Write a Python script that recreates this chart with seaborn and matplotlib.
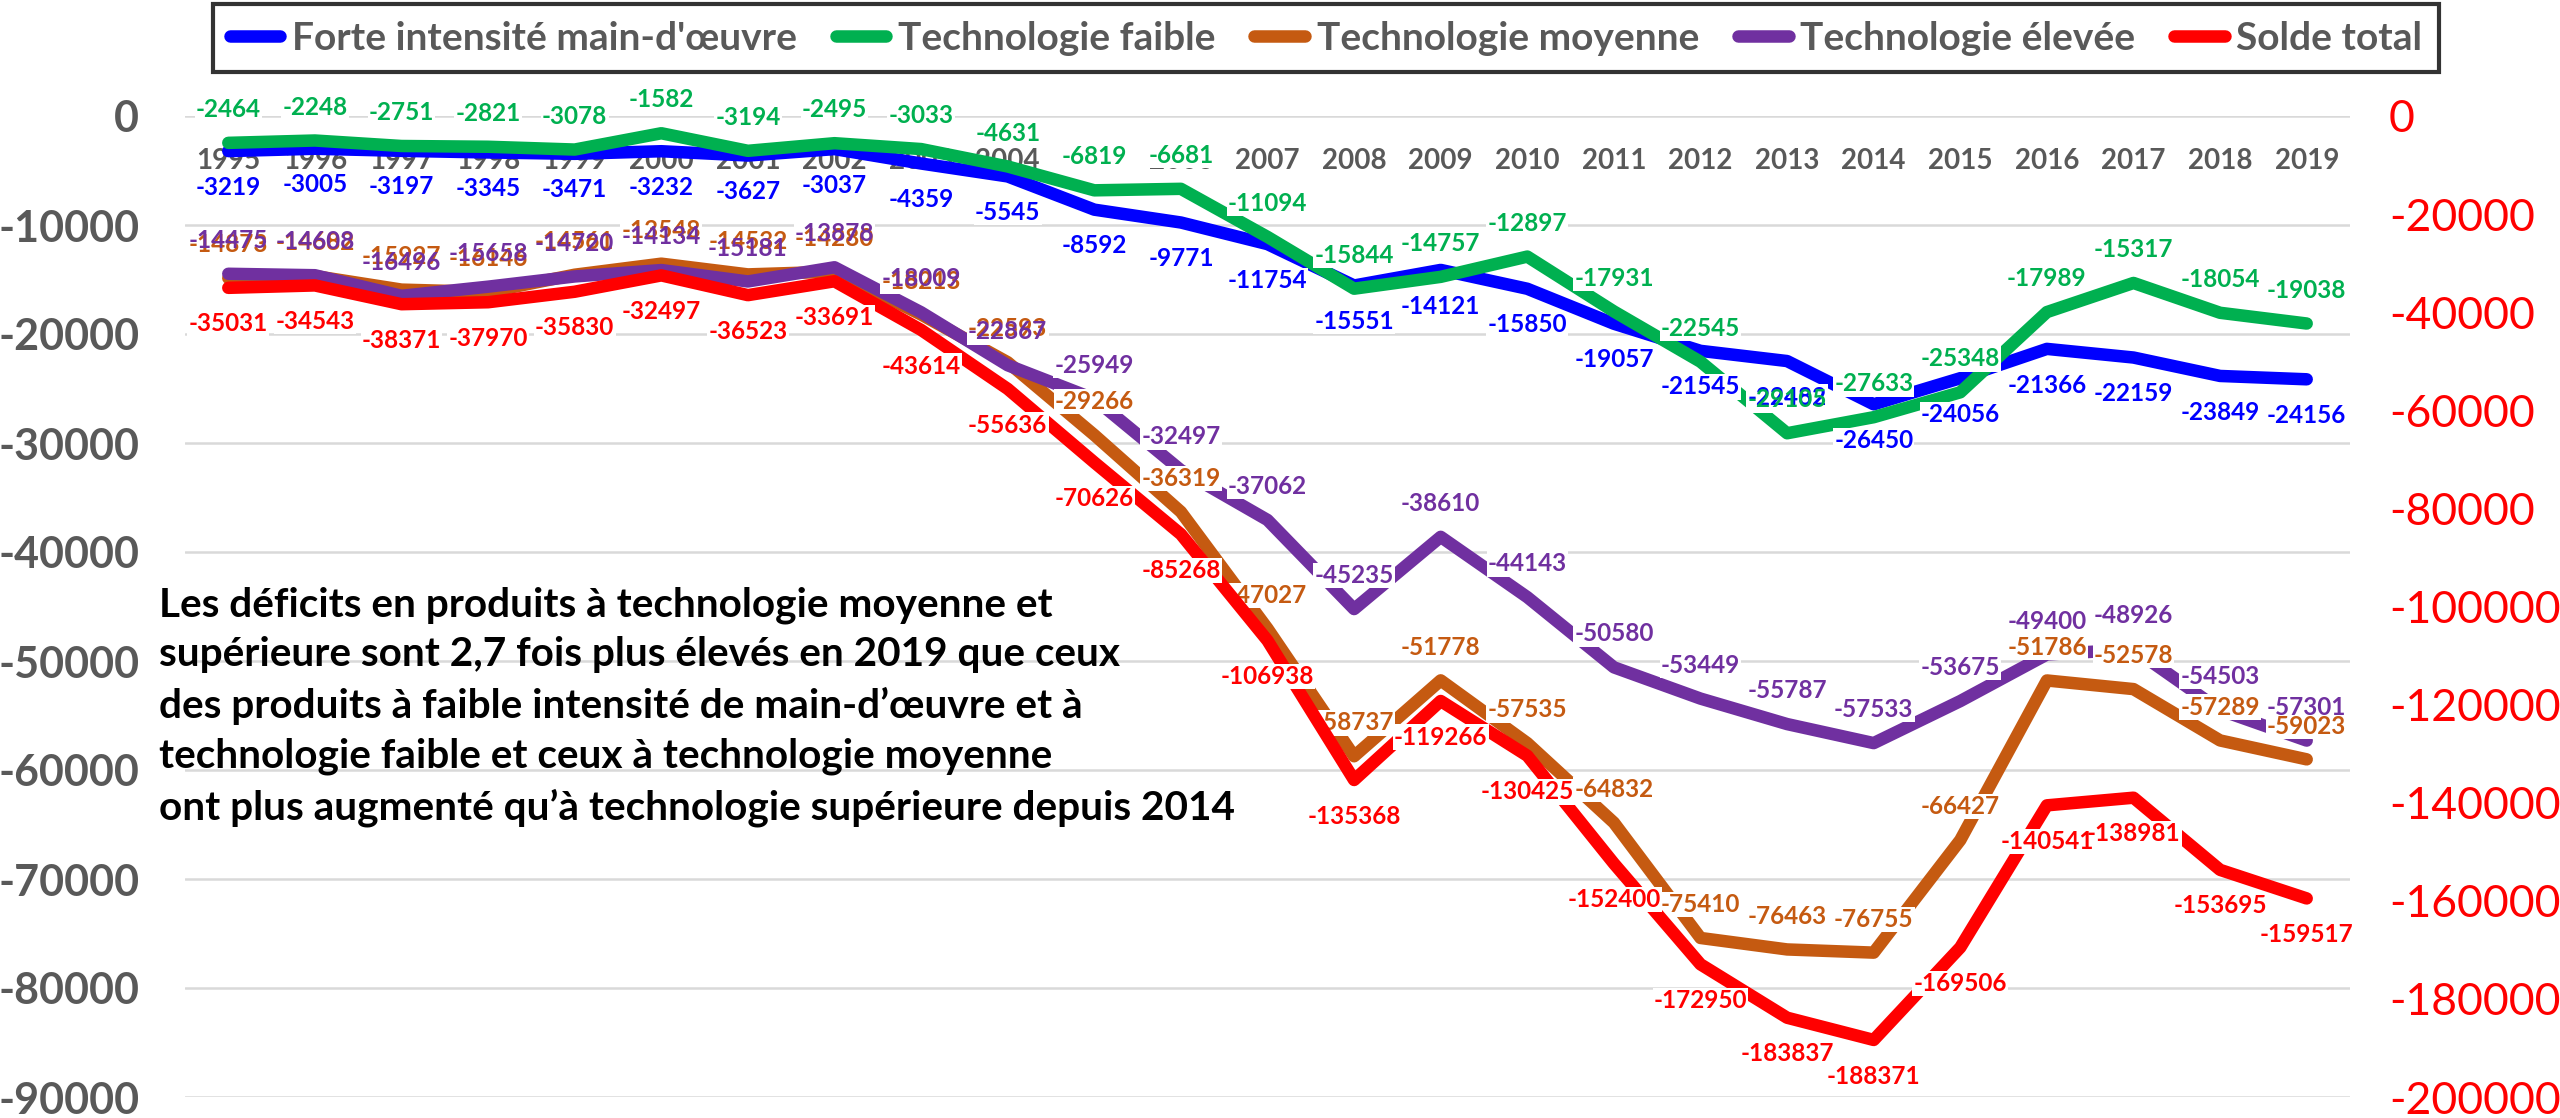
import matplotlib
matplotlib.use('agg')
import matplotlib.pyplot as plt
import seaborn as sns
import pandas as pd

# balance commerciale par intensite technologique
years = list(range(1995, 2020))
forte = [-3219, -3005, -3197, -3345, -3471, -3232, -3627, -3037, -4359, -5545,
         -8592, -9771, -11754, -15551, -14121, -15850, -19057, -21545, -22482,
         -26450, -24056, -21366, -22159, -23849, -24156]
faible = [-2464, -2248, -2751, -2821, -3078, -1582, -3194, -2495, -3033, -4631,
          -6819, -6681, -11094, -15844, -14757, -12897, -17931, -22545, -29105,
          -27633, -25348, -17989, -15317, -18054, -19038]
moyenne = [-14873, -14682, -15927, -16146, -14561, -13548, -14532, -14280, -18213,
           -22593, -29266, -36319, -47027, -58737, -51778, -57535, -64832, -75410,
           -76463, -76755, -66427, -51786, -52578, -57289, -59023]
elevee = [-14475, -14608, -16496, -15658, -14720, -14134, -15181, -13878, -18009,
          -22867, -25949, -32497, -37062, -45235, -38610, -44143, -50580, -53449,
          -55787, -57533, -53675, -49400, -48926, -54503, -57301]
total = [-35031, -34543, -38371, -37970, -35830, -32497, -36523, -33691, -43614,
         -55636, -70626, -85268, -106938, -135368, -119266, -130425, -152400,
         -172950, -183837, -188371, -169506, -140541, -138981, -153695, -159517]

names = ["Forte intensité main-d'œuvre", "Technologie faible", "Technologie moyenne",
         "Technologie élevée", "Solde total"]
colors = ['#0000FF', '#00B050', '#C55A11', '#7030A0', '#FF0000']
left_ticks = list(range(-90000, 1, 10000))
right_ticks = list(range(-200000, 1, 20000))

note = ("Les déficits en produits à technologie moyenne et\n"
        "supérieure sont 2,7 fois plus élevés en 2019 que ceux\n"
        "des produits à faible intensité de main-d’œuvre et à\n"
        "technologie faible et ceux à technologie moyenne\n"
        "ont plus augmenté qu’à technologie supérieure depuis 2014")

GREY = '#595959'

#----------------------------------------------------------------------------
sns.set_theme(style='white')
plt.rcParams['font.family'] = ['Lato', 'DejaVu Sans']
plt.rcParams['axes.unicode_minus'] = False

df = pd.DataFrame({'annee': years, names[0]: forte, names[1]: faible,
                   names[2]: moyenne, names[3]: elevee, names[4]: total})
long = df.melt(id_vars='annee', value_vars=names[:4], var_name='serie', value_name='valeur')

W, H = 2560, 1118
fig = plt.figure(figsize=(W / 100, H / 100), dpi=100)
ax = fig.add_axes([185 / W, 1 - 1097 / H, (2350 - 185) / W, (1097 - 116) / H])
ax2 = ax.twinx()

sns.lineplot(data=long, x='annee', y='valeur', hue='serie', hue_order=names[:4],
             palette=colors[:4], lw=9, ax=ax, legend=False, zorder=3,
             solid_capstyle='round')
sns.lineplot(data=df, x='annee', y=names[4], color=colors[4], lw=9, ax=ax2,
             legend=False, zorder=3, solid_capstyle='round')

ax.set_xlim(1994.5, 2019.5)
ax.set_ylim(-90000, 0)
ax2.set_ylim(-200000, 0)
ax.set_yticks(left_ticks)
ax2.set_yticks(right_ticks)
ax.set_xticks(years)
ax.set_xticklabels([str(y) for y in years])
ax.set_xlabel('')
ax.set_ylabel('')
ax2.set_ylabel('')

for a in (ax, ax2):
    for s in a.spines.values():
        s.set_visible(False)
# axe des categories a la hauteur de zero, comme dans excel
ax.spines['bottom'].set_position(('data', 0))

ax.yaxis.grid(True, color='#D9D9D9', lw=1.8)
ax.set_axisbelow(True)

ax.tick_params(axis='x', length=0, pad=23, labelsize=20, labelcolor=GREY)
ax.tick_params(axis='y', length=0, pad=33, labelsize=31, labelcolor=GREY)
ax2.tick_params(axis='y', length=0, pad=28, labelsize=32, labelcolor='#FF0000')
for t in ax.get_xticklabels() + ax.get_yticklabels():
    t.set_fontweight('bold')

# etiquettes de donnees: fond blanc d'abord, texte ensuite
series = [(ax, forte, colors[0], -26), (ax, faible, colors[1], 24),
          (ax, moyenne, colors[2], 24), (ax, elevee, colors[3], 24),
          (ax2, total, colors[4], -26)]
for a, vals, c, dy in series:
    for x, v in zip(years, vals):
        a.annotate(f'{v}', (x, v), xytext=(0, dy), textcoords='offset points',
                   ha='center', va='center', fontsize=17.5, fontweight='bold',
                   color='none', zorder=4,
                   bbox=dict(boxstyle='square,pad=0.05', fc='white', ec='none'))
for a, vals, c, dy in series:
    for x, v in zip(years, vals):
        a.annotate(f'{v}', (x, v), xytext=(0, dy), textcoords='offset points',
                   ha='center', va='center', fontsize=17.5, fontweight='bold',
                   color=c, zorder=5)

handles = ax.lines[:4] + ax2.lines[:1]
leg = fig.legend(handles, names, loc='upper center', bbox_to_anchor=(0.518, 0.996),
                 ncol=5, frameon=True, fancybox=False, edgecolor='black',
                 handlelength=1.3, handletextpad=0.3, columnspacing=1.0,
                 borderpad=0.42, borderaxespad=0, prop=dict(size=28, weight='bold'))
leg.get_frame().set_linewidth(3)
for t in leg.get_texts():
    t.set_color(GREY)

fig.text(159 / W, 1 - 586 / H, note, fontsize=29.2, fontweight='bold', va='top',
         ha='left', linespacing=1.43, color='black', zorder=10)

plt.savefig('out.png', dpi=100)
plt.close()
